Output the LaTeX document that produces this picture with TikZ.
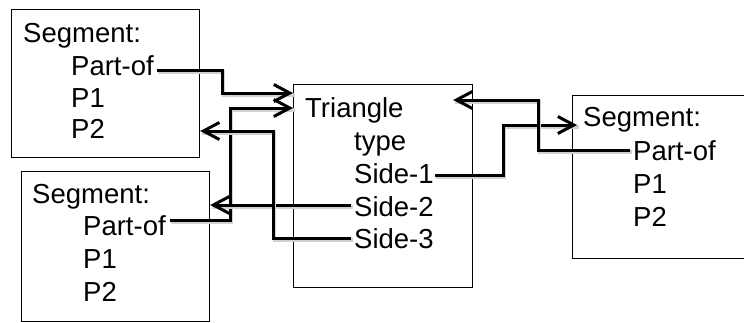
\documentclass[tikz,border=0pt]{standalone}
\usepackage{fontspec}
\setmainfont{Liberation Sans}
\usetikzlibrary{arrows.meta,calc}
\begin{document}
\begin{tikzpicture}[x=1pt,y=-1pt,
  box/.style={draw, line width=1.2pt, inner sep=0pt, anchor=north west},
  txt/.style={anchor=base west, inner sep=0pt, font=\fontsize{27.5}{33}\selectfont},
  conn/.style={line width=3pt, -{Straight Barb[length=16pt,width=17pt]},
    preaction={draw=black!18, line width=3.5pt, -, transform canvas={shift={(1.5pt,-2pt)}}}}]
\useasboundingbox (0,0) rectangle (744,322);
% boxes
\node[box, minimum width=188pt, minimum height=148pt] (A) at (11,9) {};
\node[box, minimum width=188pt, minimum height=150pt] (B) at (21,171) {};
\node[box, minimum width=179pt, minimum height=203pt] (T) at (293,84) {};
\node[box, minimum width=200pt, minimum height=163pt] (R) at (572,95) {};
% box A texts
\node[txt] (segA) at (23,42) {Segment:};
\node[txt] (pA) at (71,75) {Part-of};
\node[txt] (p1A) at (71,107) {P1};
\node[txt] (p2A) at (71,138) {P2};
% box B texts
\node[txt] (segB) at (32,203) {Segment:};
\node[txt] (pB) at (83,235) {Part-of};
\node[txt] (p1B) at (83,268) {P1};
\node[txt] (p2B) at (83,301) {P2};
% triangle texts
\node[txt] (tri) at (305,117) {Triangle};
\node[txt] (type) at (354,150) {type};
\node[txt] (s1) at (354,183) {Side-1};
\node[txt] (s2) at (354,216) {Side-2};
\node[txt] (s3) at (354,248) {Side-3};
% box R texts
\node[txt] (segR) at (583,126) {Segment:};
\node[txt] (pR) at (633,160) {Part-of};
\node[txt] (p1R) at (633,193) {P1};
\node[txt] (p2R) at (633,226) {P2};
% connectors
\draw[conn] ([xshift=3pt,yshift=5pt]pA.base east) -| (222,93) -- (T.west |- 0,93);
\draw[conn] ([xshift=4pt,yshift=15pt]pB.base east) -| (230,108) -- (T.west |- 0,108);
\draw[conn] ([xshift=-3pt,yshift=11pt]s2.base west) -- (B.east |- 0,205);
\draw[conn] ([xshift=-3pt,yshift=10pt]s3.base west) -| (273,131) -- (A.east |- 0,131);
\draw[conn, shorten >=-5pt] ([xshift=1pt,yshift=8pt]s1.base east) -| (503,125) -- (R.west |- 0,125);
\draw[conn] ([xshift=-3pt,yshift=10pt]pR.base west) -| (538,100) -- ($(T.east |- 0,100)+(-20,0)$);
\end{tikzpicture}
\end{document}
